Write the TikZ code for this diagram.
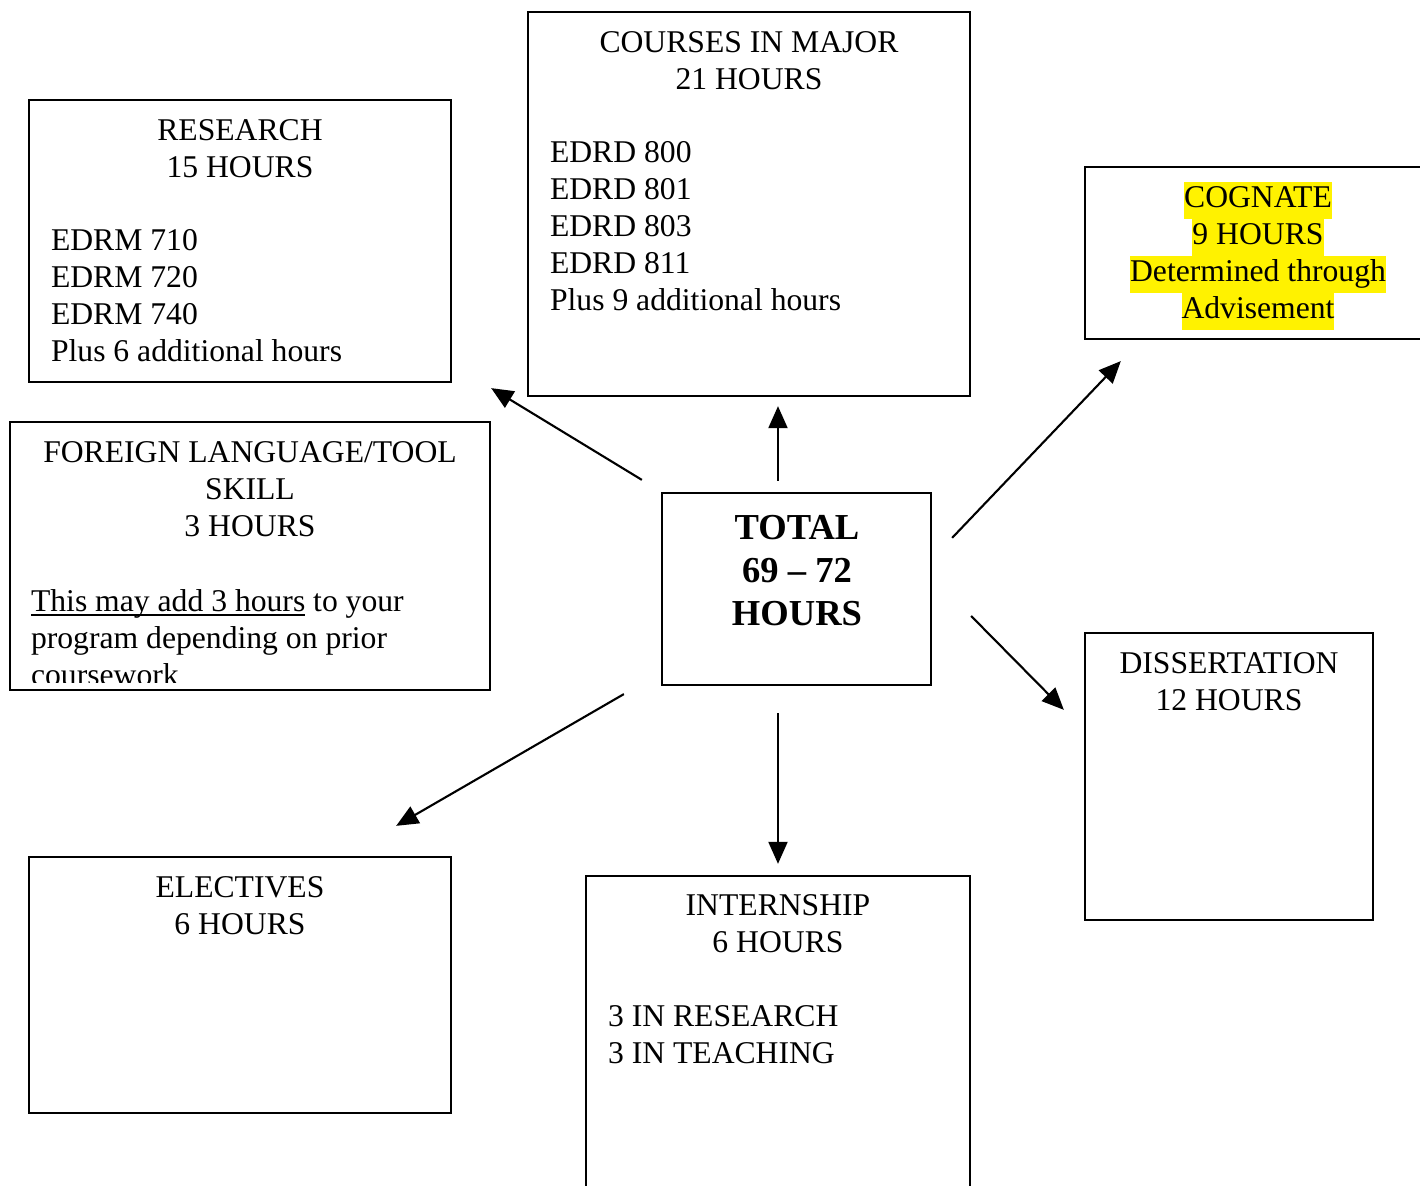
\documentclass[tikz,border=0pt]{standalone}
\usepackage{fontspec}
\setmainfont{Liberation Serif}
\usetikzlibrary{arrows.meta}
\newcommand{\hl}[1]{{\setlength{\fboxsep}{0pt}\colorbox{yellow}{\strut #1}}}
\newsavebox{\ulbox}
\newcommand{\ulin}[1]{\sbox{\ulbox}{#1}\rlap{\usebox{\ulbox}}\rule[-1.2pt]{\wd\ulbox}{0.45pt}}
\begin{document}
\begin{tikzpicture}[x=0.01cm, y=-0.01cm, line width=0.6pt,
    box/.style={draw, inner sep=0pt},
    head/.style={font=\fontsize{9}{10.53}\selectfont, inner sep=0pt, align=center, anchor=north},
    body/.style={font=\fontsize{9}{10.53}\selectfont, inner sep=0pt, align=left, anchor=north west},
    arr/.style={-{Triangle[length=0.22cm, width=0.19cm]}}]
  \useasboundingbox (0,0) rectangle (1420,1186);
  \clip (0,0) rectangle (1420,1186);
  % boxes
  \node[box, minimum width=4.22cm, minimum height=2.82cm] (research) at (240,241) {};
  \node[box, minimum width=4.42cm, minimum height=3.84cm] (courses) at (749,204) {};
  \node[box, minimum width=3.45cm, minimum height=1.72cm] (cognate) at (1257.5,253) {};
  \node[box, minimum width=4.80cm, minimum height=2.68cm] (lang) at (250,556) {};
  \node[box, minimum width=2.69cm, minimum height=1.92cm] (total) at (796.5,589) {};
  \node[box, minimum width=2.88cm, minimum height=2.87cm] (diss) at (1229,776.5) {};
  \node[box, minimum width=4.22cm, minimum height=2.56cm] (electives) at (240,985) {};
  \node[box, minimum width=3.84cm, minimum height=3.34cm] (intern) at (778,1043) {};
  % texts
  \node[head] (research-h) at (240,118.5) {RESEARCH\\15 HOURS};
  \node[body] (research-b) at (50,228.5) {EDRM 710\\EDRM 720\\EDRM 740\\Plus 6 additional hours};
  \node[head] (courses-h) at (749,30.5) {COURSES IN MAJOR\\21 HOURS};
  \node[body] (courses-b) at (549,140.5) {EDRD 800\\EDRD 801\\EDRD 803\\EDRD 811\\Plus 9 additional hours};
  \node[head] (cognate-h) at (1258,180.5) {\hl{COGNATE}\\\hl{9 HOURS}\\\hl{Determined through}\\\hl{Advisement}};
  \node[head] (lang-h) at (250,440.5) {FOREIGN LANGUAGE/TOOL\\SKILL\\3 HOURS};
  \begin{scope}
    \clip (lang.north west) rectangle ([yshift=0.09cm]lang.south east);
    \node[body] (lang-b) at (30,588.5) {\ulin{This may add 3 hours} to your\\program depending on prior\\coursework};
  \end{scope}
  \node[head, font=\fontsize{10.4}{12.24}\selectfont\bfseries] (total-h) at (797,514) {TOTAL\\69 -- 72\\HOURS};
  \node[head] (diss-h) at (1229,651.5) {DISSERTATION\\12 HOURS};
  \node[head] (electives-h) at (240,875.5) {ELECTIVES\\6 HOURS};
  \node[head] (intern-h) at (778,893.5) {INTERNSHIP\\6 HOURS};
  \node[body] (intern-b) at (607,1004.5) {3 IN RESEARCH\\3 IN TEACHING};
  % arrows
  \draw[arr] ([shift={(-19,-12)}]total.north west) -- ([shift={(39,5)}]research.south east);
  \draw[arr] ([shift={(-18.5,-11)}]total.north) -- ([shift={(29,9)}]courses.south);
  \draw[arr] ([shift={(20,46)}]total.north east) -- ([shift={(37,21)}]cognate.south west);
  \draw[arr] ([shift={(39,27)}]total.east) -- ([shift={(-20,78)}]diss.north west);
  \draw[arr] ([shift={(-18.5,27)}]total.south) -- ([shift={(0,-11)}]intern.north);
  \draw[arr] ([shift={(-37,8)}]total.south west) -- ([shift={(-56,-30)}]electives.north east);
\end{tikzpicture}
\end{document}
